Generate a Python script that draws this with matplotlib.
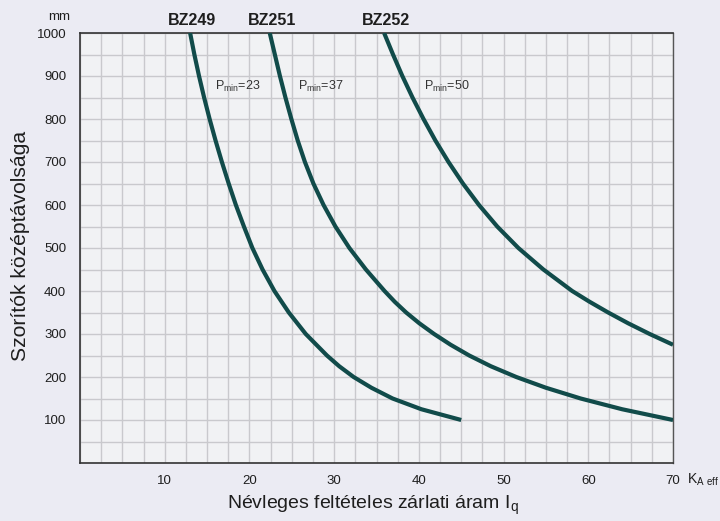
import matplotlib.pyplot as plt
from matplotlib.ticker import MultipleLocator

# BZ249, BZ251, BZ252 görbék (x: kA eff, y: mm)
bz249_x = [13.0, 13.5, 14.05, 14.65, 15.3, 16.0, 16.75, 17.55, 18.4, 19.35, 20.35, 21.55, 22.95,
           24.65, 26.65, 29.15, 30.6, 32.3, 34.4, 36.9, 40.3, 45.0]
bz249_y = [1000, 950, 900, 850, 800, 750, 700, 650, 600, 550, 500, 450, 400,
           350, 300, 250, 225, 200, 175, 150, 125, 100]

bz251_x = [22.4, 23.0, 23.6, 24.25, 24.95, 25.7, 26.55, 27.55, 28.75, 30.15, 31.8, 33.75,
           35.95, 37.15, 38.5, 40.05, 41.8, 43.75, 45.95, 48.5, 51.5, 55.0, 59.1, 64.0, 70.0]
bz251_y = [1000, 950, 900, 850, 800, 750, 700, 650, 600, 550, 500, 450,
           400, 375, 350, 325, 300, 275, 250, 225, 200, 175, 150, 125, 100]

bz252_x = [35.9, 36.95, 38.05, 39.25, 40.55, 41.95, 43.5, 45.2, 47.1, 49.25, 51.75, 54.7,
           58.1, 60.15, 62.35, 64.7, 67.25, 70.0]
bz252_y = [1000, 950, 900, 850, 800, 750, 700, 650, 600, 550, 500, 450,
           400, 375, 350, 325, 300, 275]

names = ['BZ249', 'BZ251', 'BZ252']
pmin = [23, 37, 50]
pmin_x = [15.9, 25.7, 40.6]
pmin_y = 875

xticks = [10, 20, 30, 40, 50, 60, 70]
yticks = [100, 200, 300, 400, 500, 600, 700, 800, 900, 1000]

plt.rcParams['font.family'] = ['Liberation Sans', 'DejaVu Sans']
plt.rcParams['mathtext.fontset'] = 'custom'
plt.rcParams['mathtext.rm'] = 'Liberation Sans'

curve_color = '#114b4a'
text_color = '#1e1e1e'

fig = plt.figure(figsize=(7.2, 5.21), dpi=100, facecolor='#ebebf3')
ax = fig.add_axes([80 / 720, 1 - 463 / 521, 593 / 720, 430 / 521])
ax.set_facecolor('#f1f2f4')

ax.set_xlim(0, 70)
ax.set_ylim(0, 1000)
ax.xaxis.set_minor_locator(MultipleLocator(2.5))
ax.yaxis.set_minor_locator(MultipleLocator(50))
ax.grid(which='both', color='#c9c9cd', linewidth=1.0)
ax.set_axisbelow(True)

for xs, ys in [(bz249_x, bz249_y), (bz251_x, bz251_y), (bz252_x, bz252_y)]:
    ax.plot(xs, ys, color=curve_color, linewidth=3.0, solid_capstyle='butt',
            solid_joinstyle='round', zorder=3)

ax.set_xticks(xticks)
ax.set_yticks(yticks)
ax.tick_params(which='both', length=0)
ax.tick_params(axis='x', pad=9, labelsize=9.5, labelcolor=text_color)
ax.tick_params(axis='y', pad=10, labelsize=9.5, labelcolor=text_color)

for s in ['left', 'bottom', 'top']:
    ax.spines[s].set_color('#333333')
    ax.spines[s].set_linewidth(1.2)
ax.spines['right'].set_color('#555555')
ax.spines['right'].set_linewidth(1.0)

# felső görbe feliratok
for name, xs in zip(names, [bz249_x, bz251_x, bz252_x]):
    ax.text(xs[0] + 0.25, 1012, name, ha='center', va='bottom', fontsize=11.5,
            fontweight='bold', color=text_color)

for p, px in zip(pmin, pmin_x):
    ax.text(px, pmin_y, r'P$_{\mathregular{min}}$=%d' % p, ha='left', va='center',
            fontsize=9, color='#333333')

fig.text(70 / 720, 1 - 17 / 521, 'mm', ha='right', va='center', fontsize=9.5, color=text_color)
fig.text(687 / 720, 1 - 480 / 521, r'K$_{\mathregular{A\ eff}}$', ha='left', va='center',
         fontsize=10, color=text_color)

fig.text(373 / 720, 1 - 505 / 521, 'Névleges feltételes zárlati áram I$_{\\mathregular{q}}$',
         ha='center', va='center', fontsize=14, color=text_color)
fig.text(21 / 720, 1 - 246 / 521, 'Szorítók középtávolsága', rotation=90,
         ha='center', va='center', fontsize=15.2, color=text_color)

fig.savefig('out.png', dpi=100, facecolor=fig.get_facecolor())
